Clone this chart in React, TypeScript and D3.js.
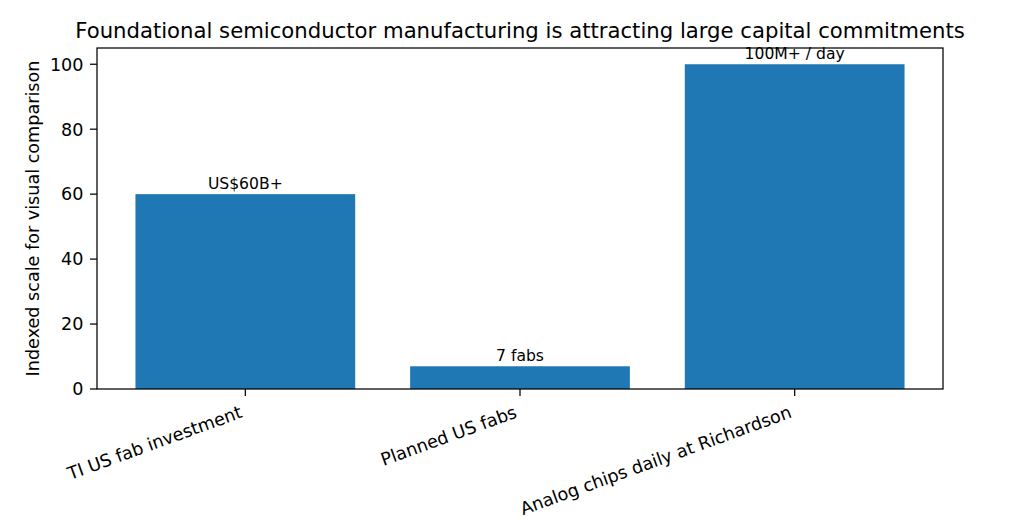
import { useEffect, useRef } from "react";
import * as d3 from "d3";

const categories = [
  "TI US fab investment",
  "Planned US fabs",
  "Analog chips daily at Richardson",
];
const values = [60, 7, 100];
const barLabels = ["US$60B+", "7 fabs", "100M+ / day"];
const yTicks = [0, 20, 40, 60, 80, 100];

const W = 1034;
const H = 532;
const margin = { left: 97, right: 91, top: 48, bottom: 143 };
const FONT = "DejaVu Sans, sans-serif";

export default function App() {
  const svgRef = useRef<SVGSVGElement | null>(null);

  useEffect(() => {
    const svg = d3.select(svgRef.current);
    svg.selectAll("*").remove();

    const x0 = margin.left;
    const x1 = W - margin.right;
    const y0 = H - margin.bottom;
    const y1 = margin.top;

    // matplotlib style: bars width 0.8, 5% margins
    const x = d3.scaleLinear().domain([-0.54, 2.54]).range([x0, x1]);
    const y = d3.scaleLinear().domain([0, 105]).range([y0, y1]);

    svg
      .append("text")
      .attr("x", (x0 + x1) / 2)
      .attr("y", 38)
      .attr("text-anchor", "middle")
      .attr("font-family", FONT)
      .attr("font-size", 21.2)
      .attr("fill", "#000")
      .text("Foundational semiconductor manufacturing is attracting large capital commitments");

    svg
      .append("g")
      .selectAll("rect")
      .data(values)
      .enter()
      .append("rect")
      .attr("x", (_, i) => x(i - 0.4))
      .attr("width", x(0.4) - x(-0.4))
      .attr("y", (d) => y(d))
      .attr("height", (d) => y(0) - y(d))
      .attr("fill", "#1f77b4");

    svg
      .append("g")
      .selectAll("text")
      .data(values)
      .enter()
      .append("text")
      .attr("x", (_, i) => x(i))
      .attr("y", (d) => y(d) - 5)
      .attr("text-anchor", "middle")
      .attr("font-family", FONT)
      .attr("font-size", 15.6)
      .attr("fill", "#000")
      .text((_, i) => barLabels[i]);

    // frame
    svg
      .append("rect")
      .attr("x", x0)
      .attr("y", y1)
      .attr("width", x1 - x0)
      .attr("height", y0 - y1)
      .attr("fill", "none")
      .attr("stroke", "#000")
      .attr("stroke-width", 1.25);

    // y axis
    const yg = svg.append("g");
    yTicks.forEach((t) => {
      yg.append("line")
        .attr("x1", x0 - 7)
        .attr("x2", x0)
        .attr("y1", y(t))
        .attr("y2", y(t))
        .attr("stroke", "#000")
        .attr("stroke-width", 1.25);
      yg.append("text")
        .attr("x", x0 - 13.5)
        .attr("y", y(t))
        .attr("dy", "0.36em")
        .attr("text-anchor", "end")
        .attr("font-family", FONT)
        .attr("font-size", 17.6)
        .attr("fill", "#000")
        .text(t);
    });

    svg
      .append("text")
      .attr("transform", `translate(39,${(y0 + y1) / 2}) rotate(-90)`)
      .attr("text-anchor", "middle")
      .attr("font-family", FONT)
      .attr("font-size", 17.6)
      .attr("fill", "#000")
      .text("Indexed scale for visual comparison");

    // x axis
    const xg = svg.append("g");
    categories.forEach((c, i) => {
      xg.append("line")
        .attr("x1", x(i))
        .attr("x2", x(i))
        .attr("y1", y0)
        .attr("y2", y0 + 7)
        .attr("stroke", "#000")
        .attr("stroke-width", 1.25);
      xg.append("text")
        .attr("transform", `translate(${x(i) - 2},${y0 + 28}) rotate(-20)`)
        .attr("text-anchor", "end")
        .attr("font-family", FONT)
        .attr("font-size", 17.6)
        .attr("fill", "#000")
        .text(c);
    });
  }, []);

  return (
    <div style={{ position: "absolute", left: 0, top: 0, background: "#fff" }}>
      <svg ref={svgRef} width={W} height={H} />
    </div>
  );
}
